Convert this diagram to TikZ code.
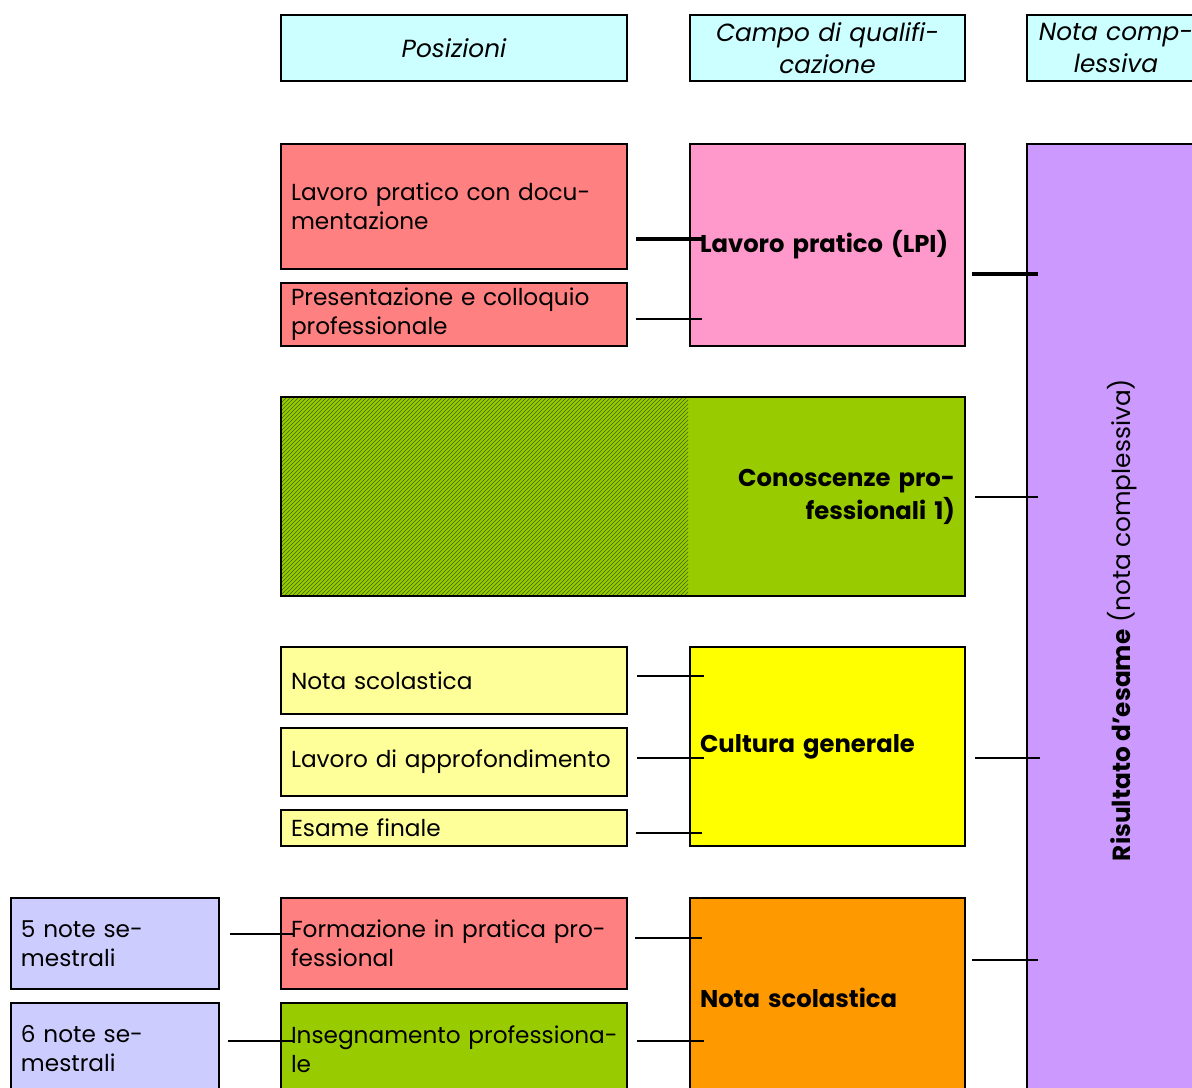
\documentclass[tikz,border=0pt]{standalone}
\usepackage{fontspec}
\setmainfont{Poppins}
\usetikzlibrary{patterns}
\definecolor{cyanbox}{HTML}{CCFFFF}
\definecolor{redbox}{HTML}{FF8080}
\definecolor{pinkbox}{HTML}{FF99CC}
\definecolor{greenbox}{HTML}{99CC00}
\definecolor{hatchgreen}{HTML}{3A6600}
\definecolor{lyellow}{HTML}{FFFF99}
\definecolor{yellowbox}{HTML}{FFFF00}
\definecolor{orangebox}{HTML}{FF9900}
\definecolor{lavbox}{HTML}{CCCCFF}
\definecolor{purplebox}{HTML}{CC99FF}
\newcommand{\mybox}[8][]{%
  \pgfmathsetmacro\bw{(#5-#3)*0.75}%
  \pgfmathsetmacro\bh{(#6-#4)*0.75}%
  \pgfmathsetmacro\tw{(#5-#3-20)*0.75}%
  \node[boxstyle,fill=#7,minimum width=\bw pt,minimum height=\bh pt,text width=\tw pt,#1] (#2) at (#3,#4) {#8};}
\begin{document}
\begin{tikzpicture}[x=0.75pt,y=-0.75pt,
  boxstyle/.style={draw=black,line width=1.5pt,rectangle,anchor=north west,
    inner xsep=7.5pt,inner ysep=0pt,align=left,
    font=\fontsize{17.4}{21.75}\selectfont},
  hdr/.style={align=center,font=\fontsize{18.6}{24}\selectfont\itshape},
  lbl/.style={font=\fontsize{18.2}{24.75}\selectfont\bfseries},
  conn/.style={line width=2.2pt},
  thickconn/.style={line width=3.3pt}]
\useasboundingbox (0,0) rectangle (1192,1088);
\clip (0,0) rectangle (1192,1088);
% header row
\mybox[hdr]{hpos}{280}{14}{626}{80}{cyanbox}{Posizioni}
\mybox[hdr]{hcampo}{689}{14}{964}{80}{cyanbox}{Campo di qualifi-\\cazione}
\mybox[hdr]{hnota}{1026}{14}{1204}{80}{cyanbox}{Nota comp-\\lessiva}
% result column
\mybox[align=center]{ris}{1026}{143}{1210}{1097}{purplebox}{}
\node[rotate=90,font=\fontsize{18.6}{22}\selectfont] (ristxt) at (1122,620) {\textbf{Risultato d’esame} (nota complessiva)};
% LPI
\mybox{lpd}{280}{143}{626}{268}{redbox}{Lavoro pratico con docu-\\mentazione}
\mybox{pcp}{280}{282}{626}{345}{redbox}{Presentazione e colloquio\\professionale}
\mybox[lbl,inner xsep=6.75pt]{lpi}{689}{143}{964}{345}{pinkbox}{Lavoro pratico (LPI)}
% Conoscenze
\fill[greenbox] (280,396) rectangle (964,595);
\fill[pattern=north east lines,pattern color=hatchgreen] (280,396) rectangle (688,595);
\mybox[lbl,fill=none,align=right]{con}{280}{396}{964}{595}{none}{Conoscenze pro-\\fessionali 1)}
% Cultura generale
\mybox{nsc}{280}{646}{626}{713}{lyellow}{Nota scolastica}
\mybox{lda}{280}{727}{626}{795}{lyellow}{Lavoro di approfondimento}
\mybox{esf}{280}{809}{626}{845}{lyellow}{Esame finale}
\mybox[lbl,inner xsep=6.75pt]{cug}{689}{646}{964}{845}{yellowbox}{Cultura generale}
% Nota scolastica
\mybox{n5}{10}{897}{218}{988}{lavbox}{5 note se-\\mestrali}
\mybox{n6}{10}{1002}{218}{1094}{lavbox}{6 note se-\\mestrali}
\mybox{fpp}{280}{897}{626}{988}{redbox}{Formazione in pratica pro-\\fessional}
\mybox{ipr}{280}{1002}{626}{1094}{greenbox}{\mbox{Insegnamento professiona-}\\le}
\mybox[lbl,inner xsep=6.75pt]{nsf}{689}{897}{964}{1097}{orangebox}{Nota scolastica}
% connectors
\coordinate (a1) at (636,239); \coordinate (b1) at (703,239);
\coordinate (a2) at (636,319); \coordinate (b2) at (702,319);
\coordinate (a3) at (972,274); \coordinate (b3) at (1038,274);
\coordinate (a4) at (975,497); \coordinate (b4) at (1038,497);
\coordinate (a5) at (637,676); \coordinate (b5) at (704,676);
\coordinate (a6) at (637,758); \coordinate (b6) at (704,758);
\coordinate (a7) at (636,833); \coordinate (b7) at (702,833);
\coordinate (a8) at (975,758); \coordinate (b8) at (1040,758);
\coordinate (a9) at (230,934); \coordinate (b9) at (294,934);
\coordinate (a10) at (228,1041); \coordinate (b10) at (293,1041);
\coordinate (a11) at (635,938); \coordinate (b11) at (702,938);
\coordinate (a12) at (637,1041); \coordinate (b12) at (704,1041);
\coordinate (a13) at (972,960); \coordinate (b13) at (1038,960);
\draw[thickconn] (a1) -- (b1);
\draw[conn] (a2) -- (b2);
\draw[thickconn] (a3) -- (b3);
\draw[conn] (a4) -- (b4);
\draw[conn] (a5) -- (b5);
\draw[conn] (a6) -- (b6);
\draw[conn] (a7) -- (b7);
\draw[conn] (a8) -- (b8);
\draw[conn] (a9) -- (b9);
\draw[conn] (a10) -- (b10);
\draw[conn] (a11) -- (b11);
\draw[conn] (a12) -- (b12);
\draw[conn] (a13) -- (b13);
\end{tikzpicture}
\end{document}
